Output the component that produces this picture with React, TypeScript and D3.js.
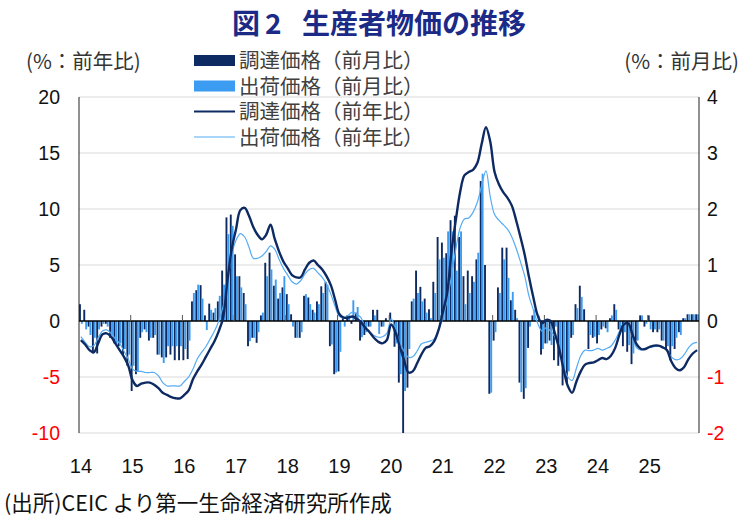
import React, { useEffect, useRef } from 'react';
import * as d3 from 'd3';

const yearLabels = ['14', '15', '16', '17', '18', '19', '20', '21', '22', '23', '24', '25'];
const leftTicks = [20, 15, 10, 5, 0, -5, -10];
const rightTicks = [4, 3, 2, 1, 0, -1, -2];
const legendLabels = ['調達価格（前月比）', '出荷価格（前月比）', '調達価格（前年比）', '出荷価格（前年比）'];

// 調達価格 前月比 (right axis, %)
const procureMoM = [
  0.3, 0.2, -0.1, -0.58, -0.58, -0.1, -0.05, -0.3, -0.4, -0.45, -0.6, -0.8,
  -1.25, -0.95, -0.3, -0.15, -0.35, -0.3, -0.6, -0.65, -0.65, -0.6, -0.7, -0.7,
  -0.7, -0.68, 0.35, 0.55, 0.64, 0.1, 0.31, 0.15, 0.35, 0.9, 1.85, 1.9,
  1.19, 0.8, 0.5, -0.45, -0.3, -0.39, 0.1, 1.04, 1.22, 0.63, 0.4, 0.6,
  0.48, 0.12, -0.3, -0.3, 0.45, 0.42, 0.2, 0.35, 0.62, 0.7, -0.45, -0.95,
  -0.9, 0.05, 0.1, -0.05, 0.15, -0.35, -0.25, -0.1, 0.2, 0.2, -0.1, 0.05,
  0.15, -0.46, -1.1, -2.0, -1.19, 0.35, 0.9, 0.61, 0.4, 0.21, 0.7, 1.5,
  1.4, 1.21, 1.8, 1.88, 1.5, 0.8, 0.9, 0.8, 1.1, 2.5, 1.0, -1.3,
  -0.35, 0.6, 1.31, 1.31, 0.37, 0.2, -1.1, -1.39, -0.48, 0.1, 0.0, -0.6,
  -0.4, -0.35, -0.7, -0.8, -1.15, -1.1, -0.3, 0.3, 0.63, 0.21, -0.5, -0.3,
  -0.4, -0.15, -0.13, 0.05, 0.3, -0.15, -0.45, -0.55, -0.77, -0.35, 0.1, -0.1,
  0.1, -0.2, -0.2, -0.35, -0.5, -0.7, -0.5, -0.2, 0.05, 0.12, 0.12, 0.12,
];

// 出荷価格 前月比 (right axis, %)
const shipMoM = [
  -0.05, -0.15, -0.25, -0.3, -0.15, -0.05, -0.1, -0.25, -0.4, -0.4, -0.5, -0.6,
  -0.8, -0.9, -0.2, -0.2, -0.3, -0.25, -0.6, -0.75, -0.45, -0.45, -0.45, -0.45,
  -0.5, -0.35, 0.5, 0.65, 0.4, -0.16, 0.2, 0.23, 0.45, 0.65, 1.55, 1.7,
  0.8, 0.6, 0.3, -0.36, -0.3, -0.2, 0.15, 0.8, 0.92, 0.74, 0.5, 0.8,
  0.3, -0.1, -0.3, -0.2, 0.48, 0.3, 0.15, 0.3, 0.5, 0.65, -0.42, -0.92,
  -0.55, -0.1, 0.1, 0.37, 0.25, -0.29, -0.2, -0.1, 0.1, -0.23, -0.1, 0.0,
  0.0, -0.4, -0.95, -1.25, -0.5, 0.4, 0.5, 0.35, 0.15, 0.05, 0.5, 1.1,
  1.13, 1.6, 1.6, 0.9, 1.6, 0.3, 0.5, 0.7, 1.22, 2.63, 0.0, -1.28,
  -0.2, 0.5, 1.1, 0.77, 0.52, 0.05, -1.27, -1.2, -0.1, 0.2, 0.1, -0.5,
  -0.4, -0.43, -0.1, -0.64, -1.0, -0.9, -0.25, 0.23, 0.43, 0.0, -0.25, -0.28,
  -0.25, -0.1, -0.2, 0.1, 0.2, -0.15, -0.2, -0.43, -0.58, -0.35, 0.1, -0.05,
  -0.15, -0.15, -0.15, -0.35, -0.45, -0.45, -0.3, -0.25, 0.05, 0.12, 0.12, 0.12,
];

// 調達価格 前年比 (left axis, %)
const procureYoY = [
  -1.7, -2.1, -2.6, -2.8, -2.0, -1.2, -1.1, -1.4, -2.0, -2.6, -3.2, -4.0,
  -5.3, -5.8, -5.6, -5.5, -5.5, -5.7, -6.0, -6.4, -6.6, -6.8, -6.9, -6.9,
  -6.6, -6.2, -5.2, -4.5, -3.9, -3.2, -2.5, -1.8, -0.9, 0.3, 3.6, 6.4,
  8.2, 9.9, 10.1, 9.4, 8.4, 7.7, 7.3, 7.7, 8.6, 7.3, 6.2, 5.3,
  4.7, 4.1, 3.9, 3.9, 4.6, 5.2, 5.4, 5.0, 4.6, 4.0, 3.2, 1.9,
  0.6, 0.3, 0.3, 0.4, 0.2, -0.1, -0.6, -1.0, -1.5, -1.85, -2.0, -1.7,
  -0.3, -1.0, -2.3, -3.5, -4.6, -4.5, -3.8, -3.0, -2.4, -2.25, -1.8, -0.8,
  0.8, 2.5, 6.2, 9.0, 11.5, 13.0, 13.3, 13.5, 14.1, 15.8, 17.3, 16.0,
  13.3, 12.2, 11.5, 11.0, 10.3, 9.0, 7.5, 5.9, 3.9, 2.1, 0.5, -0.2,
  0.1, 0.0, -1.1, -2.5, -4.3, -5.8, -6.4, -5.4, -4.5, -3.9, -3.75, -3.7,
  -3.5, -3.3, -3.4, -3.1, -2.4, -1.2, -0.3, -0.2, -1.2, -2.1, -2.5, -2.5,
  -2.3, -2.2, -2.2, -2.35, -2.6, -3.6, -4.2, -4.4, -4.1, -3.4, -2.9, -2.6,
];

// 出荷価格 前年比 (left axis, %)
const shipYoY = [
  -1.4, -1.9, -2.3, -2.2, -1.5, -0.9, -0.8, -1.1, -1.6, -2.0, -2.7, -3.4,
  -4.3, -4.5, -4.5, -4.6, -4.6, -4.6, -4.9, -5.5, -5.8, -5.8, -5.8, -5.8,
  -5.4, -5.0, -4.3, -3.4, -2.8, -2.3, -1.6, -0.9, 0.0, 1.3, 3.3, 5.9,
  7.2, 7.8, 7.5, 6.6, 5.6, 5.6, 5.8, 6.2, 6.7, 6.4, 5.5, 4.7,
  4.1, 3.5, 3.3, 3.6, 4.2, 4.6, 4.7, 4.3, 3.9, 3.3, 2.4, 1.3,
  0.4, 0.3, 0.5, 0.8, 0.6, 0.3, -0.6, -1.0, -1.3, -1.45, -1.4, -1.1,
  0.2, -0.7, -1.95, -2.7, -3.25, -3.2, -2.7, -2.05, -1.9, -1.8, -1.6, -0.8,
  0.3, 1.9, 4.0, 6.4, 8.3, 9.1, 9.2, 9.7, 10.6, 12.1, 13.4, 11.1,
  9.5, 9.0, 8.6, 8.2, 7.5, 6.5, 5.3, 4.0, 2.2, 1.0, -0.2, -0.9,
  -0.6, -0.9, -1.4, -2.5, -4.1, -5.0, -5.3, -4.2, -3.1, -2.6, -2.65, -2.6,
  -2.45, -2.6, -2.45, -2.25, -1.7, -0.9, -0.2, -0.2, -1.4, -2.4, -2.6, -2.45,
  -2.35, -2.3, -2.2, -2.3, -2.6, -3.2, -3.45, -3.4, -3.0, -2.4, -2.0, -1.9,
];

const DARK = '#0d2a62';
const LIGHT = '#3b9cf2';
const LIGHT_LINE = '#55acf4';
const JP = '"Noto Sans CJK JP", "Noto Sans", sans-serif';
const NUM = '"Liberation Sans", Arial, sans-serif';

const App: React.FC = () => {
  const svgRef = useRef<SVGSVGElement>(null);

  useEffect(() => {
    if (!svgRef.current) return;
    const svg = d3.select(svgRef.current);
    svg.selectAll('*').remove();

    const left = 79;
    const right = 699;
    const top = 97;
    const bottom = 433;

    const months = d3.range(procureYoY.length);
    const x = d3.scaleBand<number>().domain(months).range([left, right]).paddingInner(0.12);
    const sub = d3.scaleBand<string>().domain(['p', 's']).range([0, x.bandwidth()]);
    const yL = d3.scaleLinear().domain([-10, 20]).range([bottom, top]);
    const yR = d3.scaleLinear().domain([-2, 4]).range([bottom, top]);
    const bw = x.bandwidth();
    const step = x.step();

    svg.append('rect').attr('width', 756).attr('height', 522).attr('fill', '#fff');

    // title
    const title = svg.append('g').attr('font-family', JP).attr('font-weight', 'bold').attr('font-size', 28).attr('fill', '#1c2a87');
    title.append('text').attr('x', 232).attr('y', 34).text('図');
    title.append('text').attr('x', 265).attr('y', 34).text('2');
    title.append('text').attr('x', 302).attr('y', 34).text('生産者物価の推移');

    // unit labels
    svg.append('text').attr('x', 26).attr('y', 69).attr('font-family', JP).attr('font-size', 20.5).attr('fill', '#333').text('(%：前年比)');
    svg.append('text').attr('x', 739).attr('y', 69).attr('text-anchor', 'end').attr('font-family', JP).attr('font-size', 20.5).attr('fill', '#333').text('(%：前月比)');

    // grid
    svg.append('g').selectAll('line').data(leftTicks.filter((t) => t !== 0)).enter().append('line')
      .attr('x1', left).attr('x2', right).attr('y1', (d) => yL(d)).attr('y2', (d) => yL(d))
      .attr('stroke', '#d9d9d9').attr('stroke-width', 1);

    // bars
    const bars = svg.append('g');
    bars.selectAll('.p').data(procureMoM).enter().append('rect')
      .attr('x', (d, i) => (x(i) || 0) + (sub('p') || 0))
      .attr('y', (d) => Math.min(yR(d), yR(0)))
      .attr('width', sub.bandwidth())
      .attr('height', (d) => Math.abs(yR(d) - yR(0)))
      .attr('fill', DARK);
    bars.selectAll('.s').data(shipMoM).enter().append('rect')
      .attr('x', (d, i) => (x(i) || 0) + (sub('s') || 0))
      .attr('y', (d) => Math.min(yR(d), yR(0)))
      .attr('width', sub.bandwidth())
      .attr('height', (d) => Math.abs(yR(d) - yR(0)))
      .attr('fill', LIGHT);

    // axes lines
    svg.append('line').attr('x1', left).attr('x2', left).attr('y1', top).attr('y2', bottom).attr('stroke', '#222').attr('stroke-width', 1);
    svg.append('line').attr('x1', right).attr('x2', right).attr('y1', top).attr('y2', bottom).attr('stroke', '#222').attr('stroke-width', 1);
    svg.append('line').attr('x1', left).attr('x2', right).attr('y1', yL(0)).attr('y2', yL(0)).attr('stroke', '#000').attr('stroke-width', 1.3);

    // year ticks on the zero line
    svg.append('g').selectAll('line').data(d3.range(1, yearLabels.length)).enter().append('line')
      .attr('x1', (k) => left + k * 12 * step).attr('x2', (k) => left + k * 12 * step)
      .attr('y1', yL(0)).attr('y2', yL(0) - 6)
      .attr('stroke', '#555').attr('stroke-width', 1);

    // lines
    const line = d3.line<number>()
      .x((d, i) => (x(i) || 0) + bw / 2)
      .y((d) => yL(d))
      .curve(d3.curveCatmullRom.alpha(0.5));
    svg.append('path').attr('d', line(shipYoY)).attr('fill', 'none').attr('stroke', LIGHT_LINE).attr('stroke-width', 1.2);
    svg.append('path').attr('d', line(procureYoY)).attr('fill', 'none').attr('stroke', DARK).attr('stroke-width', 2.4);

    // tick labels
    svg.append('g').selectAll('text').data(leftTicks).enter().append('text')
      .attr('x', 60).attr('y', (d) => yL(d) + 7).attr('text-anchor', 'end')
      .attr('font-family', NUM).attr('font-size', 19.5)
      .attr('fill', (d) => (d < 0 ? '#ff0000' : '#111')).text((d) => d);
    svg.append('g').selectAll('text').data(rightTicks).enter().append('text')
      .attr('x', 707).attr('y', (d) => yR(d) + 7).attr('text-anchor', 'start')
      .attr('font-family', NUM).attr('font-size', 19.5)
      .attr('fill', (d) => (d < 0 ? '#ff0000' : '#111')).text((d) => d);
    svg.append('g').selectAll('text').data(yearLabels).enter().append('text')
      .attr('x', (d, k) => (x(k * 12) || 0) + bw / 2).attr('y', 473).attr('text-anchor', 'middle')
      .attr('font-family', NUM).attr('font-size', 20).attr('fill', '#111').text((d) => d);

    // legend
    const lg = svg.append('g');
    const rowY = [60.5, 86, 111.5, 137];
    lg.append('rect').attr('x', 194).attr('y', rowY[0] - 5.5).attr('width', 41).attr('height', 11).attr('fill', DARK);
    lg.append('rect').attr('x', 194).attr('y', rowY[1] - 5.5).attr('width', 41).attr('height', 11).attr('fill', LIGHT);
    lg.append('line').attr('x1', 194).attr('x2', 235).attr('y1', rowY[2]).attr('y2', rowY[2]).attr('stroke', DARK).attr('stroke-width', 2.2);
    lg.append('line').attr('x1', 194).attr('x2', 235).attr('y1', rowY[3]).attr('y2', rowY[3]).attr('stroke', LIGHT_LINE).attr('stroke-width', 1.2);
    lg.selectAll('text').data(legendLabels).enter().append('text')
      .attr('x', 239).attr('y', (d, i) => rowY[i] + 7.5)
      .attr('font-family', JP).attr('font-size', 20.5).attr('fill', '#404040').text((d) => d);

    // source
    svg.append('text').attr('x', 4).attr('y', 511).attr('font-family', JP).attr('font-size', 21.5).attr('fill', '#111')
      .text('(出所)CEIC より第一生命経済研究所作成');
  }, []);

  return (
    <svg ref={svgRef} width={756} height={522} style={{ position: 'absolute', left: 0, top: 0 }} />
  );
};

export default App;
